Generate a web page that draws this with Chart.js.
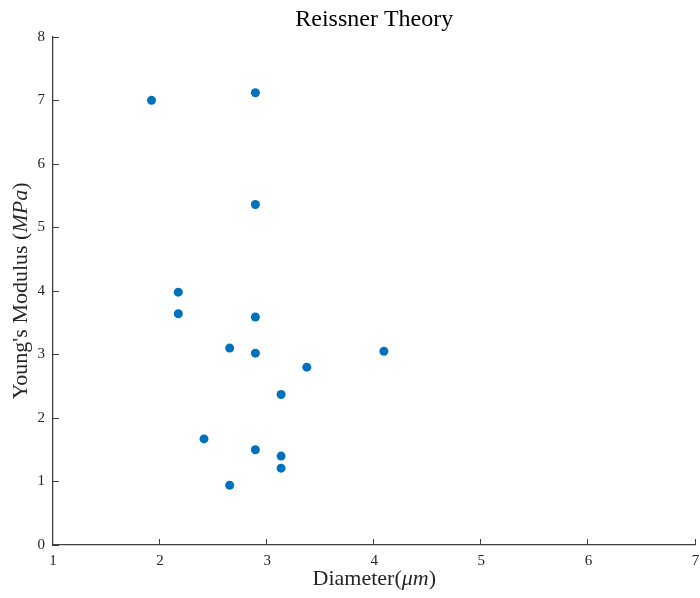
<!DOCTYPE html>
<html>
<head>
<meta charset="utf-8">
<script src="https://cdn.jsdelivr.net/npm/chart.js@4"></script>
<style>
  html, body { margin: 0; padding: 0; background: #fff; }
  #wrap { width: 700px; height: 598px; }
</style>
</head>
<body>
<div id="wrap"><canvas id="chart"></canvas></div>
<script>
let diameters = [1.92, 2.89, 2.89, 2.17, 2.17, 2.89, 2.65, 2.89, 4.09, 3.37, 3.13, 2.41, 2.89, 3.13, 3.13, 2.65];
let moduli = [7.0, 7.12, 5.36, 3.98, 3.64, 3.59, 3.10, 3.02, 3.05, 2.80, 2.37, 1.67, 1.50, 1.40, 1.21, 0.94];
let xTicks = [1, 2, 3, 4, 5, 6, 7];
let yTicks = [0, 1, 2, 3, 4, 5, 6, 7, 8];

const serif = "'Liberation Serif', 'DejaVu Serif', serif";
const axisColor = '#404040';
const textColor = '#262626';

// matlab style ticks pointing into the plot, plus mixed italic axis titles
const matlabAxes = {
    id: 'matlabAxes',
    afterDraw(chart) {
        const ctx = chart.ctx;
        const area = chart.chartArea;
        const x = chart.scales.x;
        const y = chart.scales.y;
        ctx.save();
        ctx.strokeStyle = axisColor;
        ctx.lineWidth = 1;
        ctx.beginPath();
        xTicks.forEach(v => {
            const px = Math.round(x.getPixelForValue(v)) - 0.5;
            ctx.moveTo(px, area.bottom);
            ctx.lineTo(px, area.bottom - 6);
        });
        yTicks.forEach(v => {
            const py = Math.round(y.getPixelForValue(v)) + 0.5;
            ctx.moveTo(area.left, py);
            ctx.lineTo(area.left + 6, py);
        });
        ctx.stroke();

        ctx.fillStyle = textColor;
        ctx.textBaseline = 'middle';
        drawParts(ctx, [['Diameter(', ''], ['\u03BCm', 'italic '], [')', '']],
            (area.left + area.right) / 2, 579, 0);
        drawParts(ctx, [["Young's Modulus (", ''], ['MPa', 'italic '], [')', '']],
            21, (area.top + area.bottom) / 2, -Math.PI / 2);
        ctx.restore();
    }
};

function drawParts(ctx, parts, cx, cy, angle) {
    let total = 0;
    parts.forEach(p => {
        ctx.font = p[1] + '22px ' + serif;
        total += ctx.measureText(p[0]).width;
    });
    ctx.save();
    ctx.translate(cx, cy);
    ctx.rotate(angle);
    let pos = -total / 2;
    ctx.textAlign = 'left';
    parts.forEach(p => {
        ctx.font = p[1] + '22px ' + serif;
        ctx.fillText(p[0], pos, 0);
        pos += ctx.measureText(p[0]).width;
    });
    ctx.restore();
}

const ctx = document.getElementById('chart').getContext('2d');
const chart = new Chart(ctx, {
    type: 'scatter',
    data: {
        datasets: [{
            label: 'Reissner',
            data: diameters.map((d, i) => ({ x: d, y: moduli[i] })),
            backgroundColor: '#0072BD',
            borderWidth: 0,
            pointRadius: 4.5,
            pointHoverRadius: 4.5
        }]
    },
    options: {
        responsive: true,
        maintainAspectRatio: false,
        animation: false,
        layout: { padding: 0 },
        plugins: {
            legend: { display: false },
            tooltip: { enabled: false },
            title: {
                display: true,
                fullSize: false,
                text: 'Reissner Theory',
                color: '#000',
                font: { family: serif, size: 24, weight: 'normal' },
                padding: { top: 5, bottom: 3 }
            }
        },
        scales: {
            x: {
                type: 'linear',
                min: 1,
                max: 7,
                afterBuildTicks: s => { s.ticks = xTicks.map(v => ({ value: v })); },
                afterFit: s => { s.height = 53; s.paddingLeft = 0; s.paddingRight = 3; },
                grid: { display: true, drawOnChartArea: false, drawTicks: false },
                border: { display: true, color: axisColor, width: 1.3 },
                ticks: { color: textColor, padding: 7, font: { family: serif, size: 15 } }
            },
            y: {
                type: 'linear',
                min: 0,
                max: 8,
                afterBuildTicks: s => { s.ticks = yTicks.map(v => ({ value: v })); },
                afterFit: s => { s.width = 53; s.paddingTop = 0; s.paddingBottom = 0; },
                grid: { display: true, drawOnChartArea: false, drawTicks: false },
                border: { display: true, color: axisColor, width: 1.3 },
                ticks: { color: textColor, padding: 8, font: { family: serif, size: 15 } }
            }
        }
    },
    plugins: [matlabAxes]
});
</script>
</body>
</html>
